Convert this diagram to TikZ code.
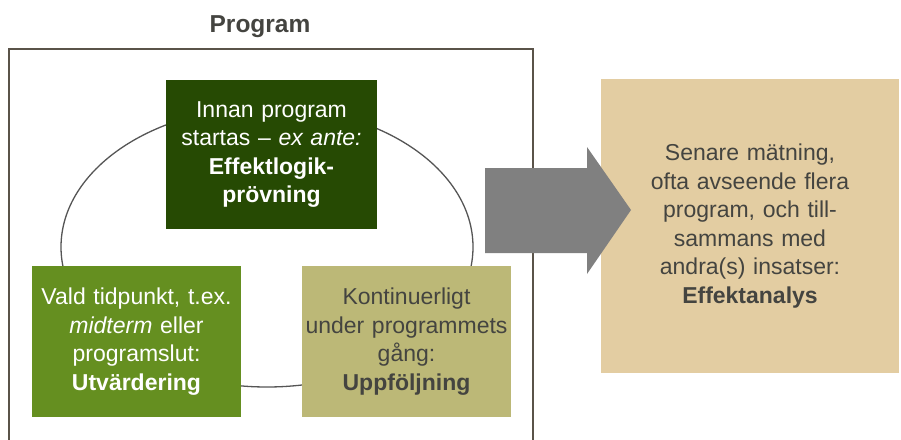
\documentclass[tikz,border=0pt]{standalone}
\usepackage{fontspec}
\setmainfont{Liberation Sans}
\usetikzlibrary{positioning}
\definecolor{antegreen}{RGB}{38,74,3}
\definecolor{utvgreen}{RGB}{101,143,32}
\definecolor{uppfkhaki}{RGB}{188,184,119}
\definecolor{efftan}{RGB}{227,205,162}
\definecolor{arrowgray}{RGB}{128,128,128}
\definecolor{framegray}{RGB}{90,83,73}
\definecolor{cyclegray}{RGB}{85,85,85}
\definecolor{textgray}{RGB}{68,68,64}

\begin{document}
\begin{tikzpicture}[x=1pt,y=-1pt]
\tikzstyle{stepbox}=[rectangle,inner sep=0pt,outer sep=0pt,
align=center,font=\fontsize{23}{28.5}\selectfont]
\useasboundingbox (0,0) rectangle (901,439);

\node[font=\fontsize{24.5}{29}\selectfont\bfseries,text=textgray] at (260,27) (title) {Program};
\draw[framegray,line width=2pt] (9,441) -- (9,49) -- (533,49) -- (533,441);
\draw[cyclegray,line width=1.3pt] (267,247) ellipse [x radius=206,y radius=140];

\node[stepbox,fill=antegreen,text=white,minimum width=211pt,minimum height=149pt,
text width=211pt] at (271.5,154.5) (ante) {Innan program\\ startas -- \textit{ex ante:}\\
\textbf{Effektlogik-}\\ \textbf{prövning}};
\node[stepbox,fill=utvgreen,text=white,minimum width=209pt,minimum height=151pt,
text width=209pt] at (136.5,341.5) (utv) {Vald tidpunkt, t.ex.\\ \textit{midterm} eller\\
programslut:\\ \textbf{Utvärdering}};
\node[stepbox,fill=uppfkhaki,text=textgray,minimum width=209pt,minimum height=151pt,
text width=209pt] at (406.5,341.5) (uppf) {Kontinuerligt\\ under programmets\\
gång:\\ \textbf{Uppföljning}};

\node[stepbox,fill=efftan,text=textgray,minimum width=298pt,minimum height=294pt,
text width=298pt] at (750,226) (eff) {Senare mätning,\\ ofta avseende flera\\
program, och till-\\ sammans med\\ andra(s) insatser:\\ \textbf{Effektanalys}};
\fill[arrowgray] (485,168) -- (587,168) -- (587,147) -- (631,210) -- (587,274)
-- (587,253) -- (485,253) -- cycle;

\end{tikzpicture}
\end{document}
